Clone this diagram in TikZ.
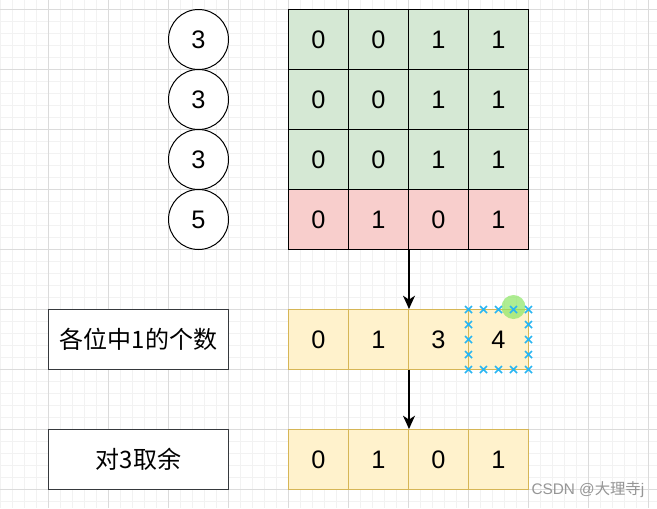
\documentclass[tikz,border=0pt]{standalone}
\usepackage{fontspec}
\setmainfont{Liberation Sans}
\newfontfamily\cjkfont{Noto Sans CJK SC}
\usetikzlibrary{arrows.meta}

\definecolor{gridminor}{RGB}{242,242,242}
\definecolor{gridmajor}{RGB}{219,219,219}
\definecolor{cellgreen}{RGB}{213,232,212}
\definecolor{cellred}{RGB}{248,206,204}
\definecolor{cellyellow}{RGB}{255,242,204}
\definecolor{lineyellow}{RGB}{214,182,86}
\definecolor{labelgray}{RGB}{54,57,61}
\definecolor{selblue}{RGB}{41,182,242}
\definecolor{handlegreen}{RGB}{140,230,100}
\definecolor{markgray}{RGB}{150,150,150}

\tikzset{every picture/.style={line width=0.75pt}}
\tikzset{
	cell/.style={draw, rectangle, inner sep=0pt, minimum width=45pt, minimum height=45pt, font=\fontsize{19}{19}\selectfont},
	greencell/.style={cell, fill=cellgreen},
	redcell/.style={cell, fill=cellred},
	yellowcell/.style={cell, draw=lineyellow, fill=cellyellow},
	numcircle/.style={draw, circle, inner sep=0pt, minimum size=45pt, fill=white, font=\fontsize{19}{19}\selectfont},
	labelbox/.style={draw=labelgray, rectangle, inner sep=0pt, minimum width=135pt, minimum height=45pt, fill=white, font=\cjkfont\fontsize{18}{18}\selectfont},
	flow/.style={line width=1pt, -{Stealth[length=10pt,width=9pt,inset=3pt]}},
	selmark/.style={selblue, line width=1.1pt}
}

\begin{document}
\begin{tikzpicture}[x=0.75pt,y=0.75pt,yscale=-1,xscale=1]
	\useasboundingbox (0,0) rectangle (657,508);
	%Background grid
	\fill[white] (0,0) rectangle (657,508);
	\foreach \x in {0.5,12.5,...,656.5} \draw[gridminor] (\x,0) -- (\x,508);
	\foreach \y in {-2.5,9.5,...,508} \draw[gridminor] (0,\y) -- (657,\y);
	\foreach \x in {48.5,108.5,...,656.5} \draw[gridmajor] (\x,0) -- (\x,508);
	\foreach \y in {9.5,69.5,...,508} \draw[gridmajor] (0,\y) -- (657,\y);

	%Shape: Matrix rows
	\foreach \v [count=\c from 0] in {0,0,1,1}
		\node[greencell] (a-\c) at ({318.5+60*\c},39.5) {\v};
	\foreach \v [count=\c from 0] in {0,0,1,1}
		\node[greencell] (b-\c) at ({318.5+60*\c},99.5) {\v};
	\foreach \v [count=\c from 0] in {0,0,1,1}
		\node[greencell] (c-\c) at ({318.5+60*\c},159.5) {\v};
	\foreach \v [count=\c from 0] in {0,1,0,1}
		\node[redcell] (d-\c) at ({318.5+60*\c},219.5) {\v};

	%Shape: Circles
	\node[numcircle] (na) at (198.5,39.5) {3};
	\node[numcircle] (nb) at (198.5,99.5) {3};
	\node[numcircle] (nc) at (198.5,159.5) {3};
	\node[numcircle] (nd) at (198.5,219.5) {5};

	%Shape: Count row
	\foreach \v [count=\c from 0] in {0,1,3,4}
		\node[yellowcell] (s-\c) at ({318.5+60*\c},339.5) {\v};
	%Shape: Mod row
	\foreach \v [count=\c from 0] in {0,1,0,1}
		\node[yellowcell] (t-\c) at ({318.5+60*\c},459.5) {\v};

	%Shape: Labels
	\node[labelbox] (countlabel) at (138.5,339.5) {各位中1的个数};
	\node[labelbox] (modlabel) at (138.5,459.5) {对3取余};

	%Straight Lines
	\draw[flow] (d-1.south east) -- (s-1.north east);
	\draw[flow] (s-1.south east) -- (t-1.north east);

	%Selection handles
	\fill[handlegreen, fill opacity=0.7] (513.5,307) circle (12);
	\foreach \p in {468.5,483.5,498.5,513.5,528.5} {
		\draw[selmark] (\p-3.5,306) -- (\p+3.5,313) (\p-3.5,313) -- (\p+3.5,306);
		\draw[selmark] (\p-3.5,366) -- (\p+3.5,373) (\p-3.5,373) -- (\p+3.5,366);
	}
	\foreach \p in {324.5,339.5,354.5} {
		\draw[selmark] (465,\p-3.5) -- (472,\p+3.5) (465,\p+3.5) -- (472,\p-3.5);
		\draw[selmark] (525,\p-3.5) -- (532,\p+3.5) (525,\p+3.5) -- (532,\p-3.5);
	}

	% Text Node
	\node[anchor=west, inner sep=0pt, text=markgray, font=\fontsize{11.5}{11.5}\selectfont] (mark) at (531,490) {CSDN @{\cjkfont 大理寺}j};
\end{tikzpicture}
\end{document}
